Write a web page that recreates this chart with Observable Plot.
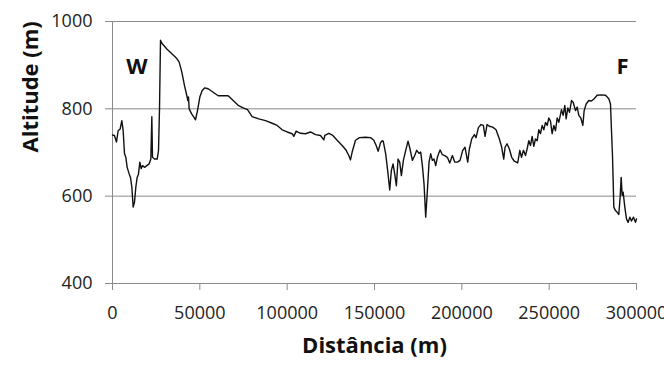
<!DOCTYPE html>
<html>
<head>
<meta charset="utf-8">
<script src="https://cdn.jsdelivr.net/npm/d3@7"></script>
<script src="https://cdn.jsdelivr.net/npm/@observablehq/plot@0.6"></script>
<style>
  html, body { margin: 0; padding: 0; background: #fff; }
  #chart { width: 664px; height: 375px; overflow: hidden; }
</style>
</head>
<body>
<div id="chart"></div>
<script>
const distance = [
  0, 1100, 2290, 3245, 4390, 5343, 6106, 6870, 7633, 8397, 9540, 10305, 11070, 11833, 12596,
  13360, 14123, 14887, 15650, 16414, 17177, 18322, 19658, 20994, 21948, 22520, 22902, 24047,
  25574, 26337, 26910, 27482, 28246, 31108, 33971, 36833, 38169, 39696, 41223, 42559, 43131,
  43500, 43895, 45231, 46376, 47521, 48666, 50000, 51337, 52864, 54772, 57635, 60497, 63360,
  66223, 69085, 71948, 74810, 77290, 79958, 83775, 87592, 91408, 94271, 97134, 99996, 102859,
  103813, 105149, 107630, 110492, 113355, 116217, 119080, 120988, 121560, 123850, 126140,
  128621, 131484, 133774, 135301, 136255, 137209, 139117, 141407, 144842, 147705, 149613,
  150949, 152094, 153430, 154384, 155000, 156418, 157754, 158708, 159663, 160617, 161571,
  162525, 163479, 164434, 165388, 166533, 167869, 169205, 170350, 171686, 173021, 174167,
  175502, 176457, 177411, 178365, 179319, 180274, 181228, 182182, 183136, 184091, 185045,
  185999, 187526, 188862, 190197, 191724, 193060, 194587, 195923, 197449, 198976, 200503,
  201839, 203366, 204320, 205656, 207182, 208136, 209472, 210999, 212335, 213289, 214434,
  215770, 217678, 219587, 221495, 222831, 223976, 224739, 225884, 227220, 228556, 230083,
  231991, 233200, 234153, 235298, 236443, 237588, 238352, 239306, 240260, 241214, 242169,
  243123, 244077, 245031, 245986, 246940, 247894, 248879, 249803, 250757, 251711, 252666,
  253620, 254574, 255528, 257055, 258009, 258963, 259727, 260681, 261635, 262780, 263734,
  265070, 266025, 266979, 268124, 269269, 270032, 271177, 272704, 274231, 275757, 277475,
  279955, 282245, 284153, 285107, 285680, 286252, 286634, 287016, 287970, 288924, 289879,
  290642, 291215, 291787, 292360, 293314, 294268, 295223, 296177, 297131, 298276, 299421, 300000
];
const altitude = [
  740, 739, 724, 750, 754, 773, 750, 697, 689, 666, 651, 643, 621, 575, 586,
  621, 643, 651, 678, 663, 670, 666, 670, 674, 685, 782, 689, 685,
  685, 704, 800, 957, 950, 937, 926, 915, 907, 884, 853, 830, 819,
  827, 800, 789, 782, 775, 796, 827, 842, 848, 846, 838, 830, 830,
  830, 819, 808, 802, 798, 782, 777, 773, 767, 762, 752, 747, 743,
  737, 749, 744, 743, 747, 741, 739, 729, 739, 744, 739,
  728, 716, 705, 693, 683, 701, 728, 734, 735, 734, 728,
  716, 703, 722, 727, 726, 697, 651, 614, 659, 674, 651,
  624, 685, 678, 647, 682, 705, 726, 708, 682, 693, 705,
  698, 701, 670, 628, 552, 613, 678, 697, 682, 685, 670,
  689, 706, 695, 693, 689, 676, 693, 678, 678, 682, 705,
  712, 678, 708, 731, 741, 734, 757, 764, 762, 737, 764,
  760, 758, 752, 731, 712, 685, 712, 720, 708, 689, 680,
  676, 705, 689, 705, 693, 712, 727, 716, 737, 714, 731,
  727, 752, 743, 762, 752, 769, 762, 779, 772, 743, 762,
  750, 779, 769, 798, 785, 808, 777, 802, 792, 819, 815,
  796, 804, 785, 779, 762, 796, 811, 819, 818, 823, 831,
  832, 831, 823, 811, 750, 693, 636, 575, 567, 563, 558,
  598, 643, 602, 609, 575, 548, 540, 552, 543, 552, 540, 548
];
const xTicks = [0, 50000, 100000, 150000, 200000, 250000, 300000];
const yTicks = [400, 600, 800, 1000];
const gridValues = [600, 800, 1000];
const pointLabels = ["W", "F"];
const pointLabelX = [14000, 292000];
const pointLabelY = [897, 897];
const xTitle = "Distância (m)";
const yTitle = "Altitude (m)";

const profile = distance.map((d, i) => ({distance: d, altitude: altitude[i]}));
const annotations = pointLabels.map((t, i) => ({label: t, x: pointLabelX[i], y: pointLabelY[i]}));

const gray = "#8a8a8a";
const chart = Plot.plot({
  width: 664,
  height: 375,
  marginLeft: 112,
  marginRight: 28,
  marginTop: 21,
  marginBottom: 92,
  style: {fontFamily: "'Open Sans', sans-serif", background: "#fff", overflow: "visible"},
  x: {domain: [0, 300000]},
  y: {domain: [400, 1000]},
  marks: [
    Plot.ruleY(gridValues, {stroke: gray, strokeWidth: 1}),
    Plot.ruleY([400], {stroke: gray, strokeWidth: 1}),
    Plot.ruleX([0], {stroke: gray, strokeWidth: 1}),
    Plot.axisY(yTicks, {tickSize: 7, tickPadding: 13, stroke: gray, fill: "#222", fontSize: 18, label: null, tickFormat: d3.format("d")}),
    Plot.axisX(xTicks, {tickSize: 7, tickPadding: 16, stroke: gray, fill: "#222", fontSize: 18, label: null, tickFormat: d3.format("d")}),
    Plot.line(profile, {x: "distance", y: "altitude", stroke: "#111", strokeWidth: 1.4, strokeLinejoin: "round"}),
    Plot.text(annotations, {x: "x", y: "y", text: "label", fontSize: 22, fontWeight: "bold", fill: "#111"}),
    Plot.text([xTitle], {text: d => d, frameAnchor: "bottom", dy: 69, fontSize: 22, fontWeight: "bold", fill: "#111"}),
    Plot.text([yTitle], {text: d => d, frameAnchor: "left", dx: -82, rotate: -90, fontSize: 22, fontWeight: "bold", fill: "#111"})
  ]
});
document.getElementById("chart").appendChild(chart);
</script>
</body>
</html>
